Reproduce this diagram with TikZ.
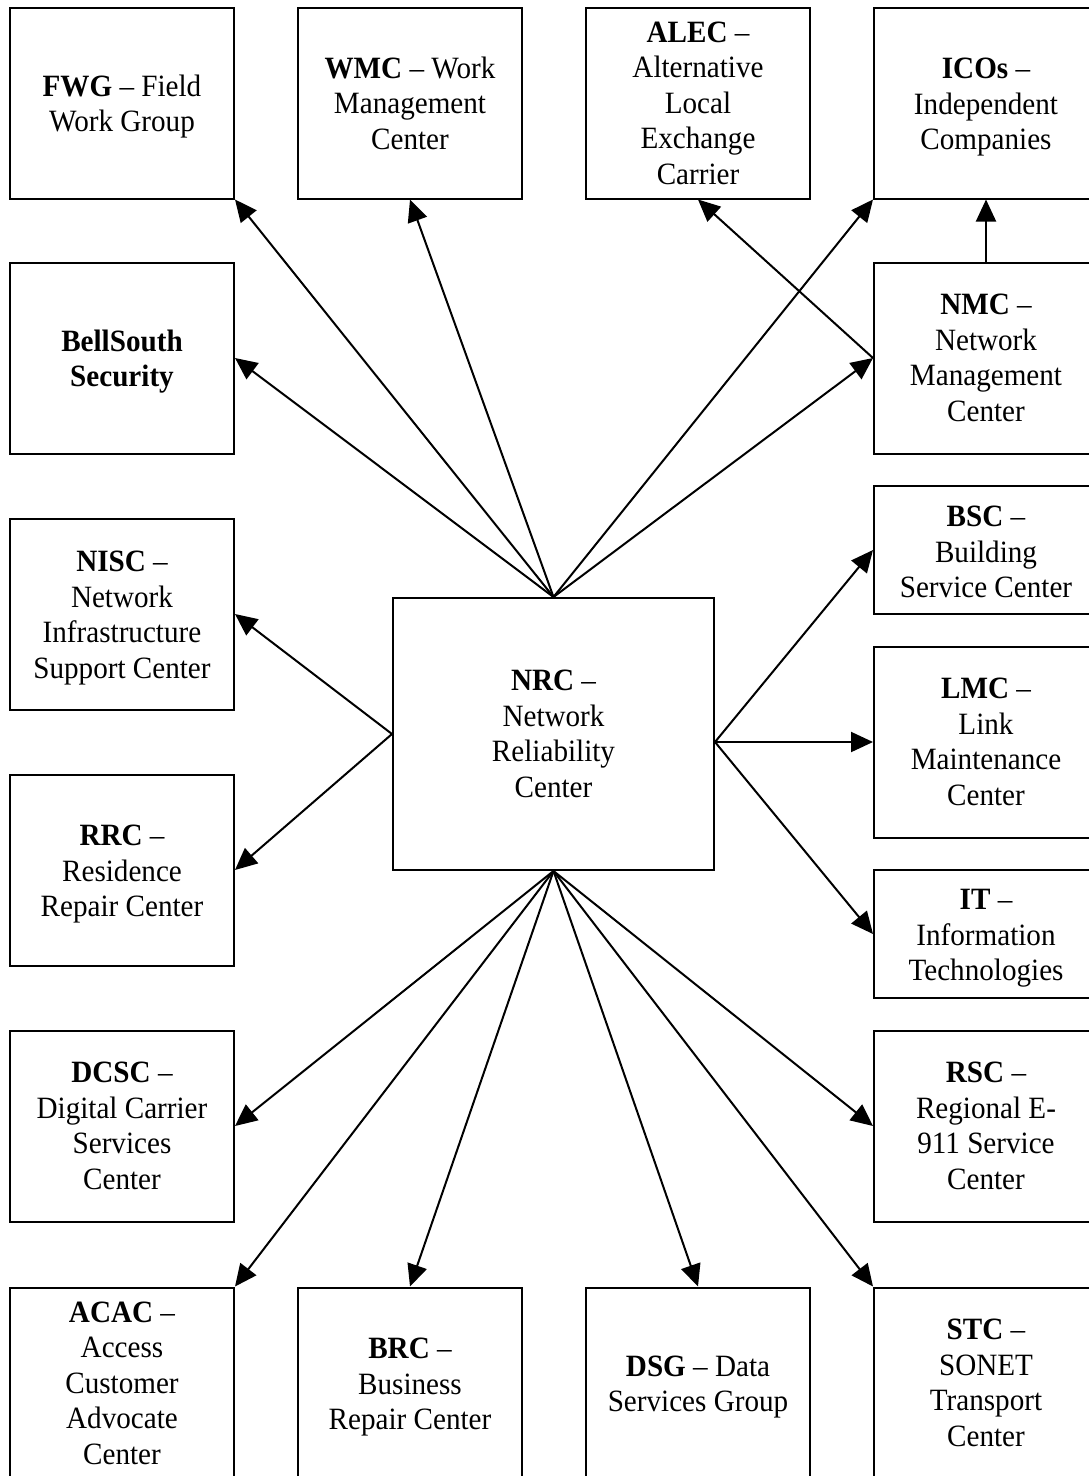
\documentclass[tikz,border=0pt]{standalone}
\usepackage{fontspec}
\setmainfont{Liberation Serif}[FakeStretch=0.94]
\usetikzlibrary{arrows.meta}

% a strut that lowers a text block a little inside its box
\newcommand{\toppad}[1][29pt]{\rule{0pt}{#1}}

\tikzset{
  unitbox/.style={draw, line width=2pt, rectangle, align=center, inner sep=0pt,
    minimum width=224pt, minimum height=191pt,
    font=\fontsize{31}{35.5}\selectfont},
  shortbox/.style={unitbox, minimum height=128pt},
  hubbox/.style={unitbox, minimum width=321pt, minimum height=272pt},
  link/.style={line width=2pt, -{Triangle[length=22pt,width=20pt]}}
}

\begin{document}
\begin{tikzpicture}[x=1pt, y=-1pt]
\useasboundingbox (0,0) rectangle (1089,1476);

% top row
\node[unitbox] (fwg)  at (122,103) {\toppad\textbf{FWG} – Field\\Work Group};
\node[unitbox] (wmc)  at (410,103) {\textbf{WMC} – Work\\Management\\Center};
\node[unitbox] (alec) at (698,103) {\textbf{ALEC} –\\Alternative\\Local\\Exchange\\Carrier};
\node[unitbox] (icos) at (986,103) {\toppad\textbf{ICOs} –\\Independent\\Companies};

% left column
\node[unitbox] (bss)  at (122,358) {\toppad\textbf{BellSouth}\\\textbf{Security}};
\node[unitbox] (nisc) at (122,614) {\toppad\textbf{NISC} –\\Network\\Infrastructure\\Support Center};
\node[unitbox] (rrc)  at (122,870) {\toppad\textbf{RRC} –\\Residence\\Repair Center};
\node[unitbox] (dcsc) at (122,1126) {\textbf{DCSC} –\\Digital Carrier\\Services\\Center};

% right column
\node[unitbox]  (nmc) at (986,358) {\textbf{NMC} –\\Network\\Management\\Center};
\node[shortbox] (bsc) at (986,550) {\toppad[25pt]\textbf{BSC} –\\Building\\Service Center};
\node[unitbox]  (lmc) at (986,742) {\textbf{LMC} –\\Link\\Maintenance\\Center};
\node[shortbox] (it)  at (986,934) {\toppad\textbf{IT} –\\Information\\Technologies};
\node[unitbox]  (rsc) at (986,1126) {\textbf{RSC} –\\Regional E-\\911 Service\\Center};

% bottom row
\node[unitbox] (acac) at (122,1383) {\textbf{ACAC} –\\Access\\Customer\\Advocate\\Center};
\node[unitbox] (brc)  at (410,1383) {\toppad\textbf{BRC} –\\Business\\Repair Center};
\node[unitbox] (dsg)  at (698,1383) {\toppad\textbf{DSG} – Data\\Services Group};
\node[unitbox] (stc)  at (986,1383) {\textbf{STC} –\\SONET\\Transport\\Center};

% hub
\node[hubbox] (nrc) at (553.5,734) {\textbf{NRC} –\\Network\\Reliability\\Center};
\coordinate (nrcR) at (nrc.east |- lmc.west);

% connectors from the top of the hub
\draw[link] (nrc.north) -- (fwg.south east);
\draw[link] (nrc.north) -- (wmc.south);
\draw[link] (nrc.north) -- (bss.east);
\draw[link] (nrc.north) -- (icos.south west);
\draw[link] (nrc.north) -- (nmc.west);
\draw[link] (nmc.west) -- (alec.south);
\draw[link] (nmc.north) -- (icos.south);

% sides
\draw[link] (nrc.west) -- (nisc.east);
\draw[link] (nrc.west) -- (rrc.east);
\draw[link] (nrcR) -- (bsc.west);
\draw[link] (nrcR) -- (lmc.west);
\draw[link] (nrcR) -- (it.west);

% bottom
\draw[link] (nrc.south) -- (dcsc.east);
\draw[link] (nrc.south) -- (acac.north east);
\draw[link] (nrc.south) -- (brc.north);
\draw[link] (nrc.south) -- (dsg.north);
\draw[link] (nrc.south) -- (rsc.west);
\draw[link] (nrc.south) -- (stc.north west);
\end{tikzpicture}
\end{document}
